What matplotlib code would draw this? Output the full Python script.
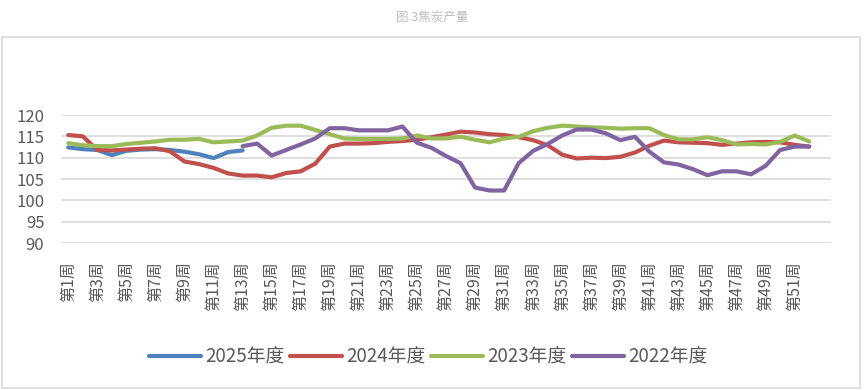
import matplotlib
matplotlib.use("Agg")
import matplotlib.pyplot as plt
from matplotlib.patches import Rectangle
import numpy as np

plt.rcParams['font.family'] = ['Noto Sans CJK SC', 'DejaVu Sans']

nan = np.nan
weeks = list(range(1, 53))
tick_weeks = list(range(1, 52, 2))
tick_labels = [f"第{w}周" for w in tick_weeks]
y_ticks = [90, 95, 100, 105, 110, 115, 120]

s2025 = [112.4, 112.0, 111.8, 110.6, 111.6, 111.9, 112.0, 111.8, 111.4, 110.8, 109.9, 111.3, 111.7]

s2024 = [115.3, 115.0, 111.8, 111.7, 111.9, 112.1, 112.2, 111.5, 109.1, 108.5,
         107.6, 106.3, 105.8, 105.8, 105.4, 106.4, 106.8, 108.6, 112.6, 113.3,
         113.3, 113.4, 113.7, 113.9, 114.2, 114.8, 115.4, 116.1, 115.9, 115.5,
         115.3, 114.8, 114.1, 112.9, 110.7, 109.8, 110.0, 109.9, 110.2, 111.2,
         112.8, 114.0, 113.6, 113.5, 113.4, 113.0, 113.3, 113.6, 113.7, 113.6,
         113.0, 112.6]

s2023 = [113.4, 112.9, 112.7, 112.7, 113.2, 113.5, 113.8, 114.2, 114.2, 114.4,
         113.6, 113.8, 114.0, 115.2, 117.0, 117.5, 117.5, 116.5, 115.5, 114.5,
         114.4, 114.4, 114.4, 114.5, 115.2, 114.5, 114.5, 114.9, 114.2, 113.6,
         114.5, 114.9, 116.2, 117.0, 117.5, 117.3, 117.1, 117.0, 116.8, 116.9,
         116.9, 115.3, 114.3, 114.3, 114.8, 114.1, 113.1, 113.2, 113.1, 113.7,
         115.2, 113.8]

s2022 = [nan] * 12 + [
         112.7, 113.3, 110.5, 111.8, 113.1, 114.5, 116.9, 116.9,
         116.4, 116.4, 116.4, 117.3, 113.5, 112.3, 110.4, 108.7, 103.0, 102.3,
         102.3, 108.7, 111.6, 113.2, 115.2, 116.6, 116.6, 115.7, 114.1, 114.9,
         111.4, 108.9, 108.4, 107.3, 105.9, 106.8, 106.8, 106.1, 108.1, 111.8,
         112.6, 112.6]

series = [("2025年度", s2025, "#4F81BD"),
          ("2024年度", s2024, "#C0504D"),
          ("2023年度", s2023, "#9BBB59"),
          ("2022年度", s2022, "#8064A2")]

W, H = 864, 390
fig = plt.figure(figsize=(W / 100, H / 100), dpi=100)

# outer frame + title
fig.patches.append(Rectangle((2 / W, 2 / H), 858 / W, (388 - 37) / H,
                             transform=fig.transFigure, fill=False,
                             edgecolor="#D9D9D9", linewidth=1.2))
fig.text(0.5, 1 - 17 / H, "图 3焦炭产量", ha="center", va="center",
         fontsize=9, color="#BFBFBF")

ax = fig.add_axes([61 / W, 1 - 243 / H, 770 / W, 128 / H])
for name, vals, col in series:
    ax.plot(weeks[:len(vals)], vals, color=col, linewidth=3, label=name,
            solid_capstyle="round", solid_joinstyle="round")

ax.set_xlim(0.5, 53.5)
ax.set_ylim(90, 120)
ax.set_yticks(y_ticks)
ax.set_xticks(tick_weeks)
ax.set_xticklabels(tick_labels, rotation=90, fontsize=11.5, color="#595959")
ax.tick_params(axis="y", length=0, pad=12, labelsize=12, labelcolor="#595959")
ax.tick_params(axis="x", length=0, pad=13)
ax.grid(axis="y", color="#D9D9D9", linewidth=1.2)
ax.set_axisbelow(True)
for sp in ax.spines.values():
    sp.set_visible(False)

fig.legend(loc="center", bbox_to_anchor=(428 / W, 1 - 357 / H), ncol=4,
           frameon=False, fontsize=13.5, handlelength=2.8, handletextpad=0.2,
           columnspacing=0.3, labelcolor="#595959")

fig.savefig("out.png", dpi=100)
